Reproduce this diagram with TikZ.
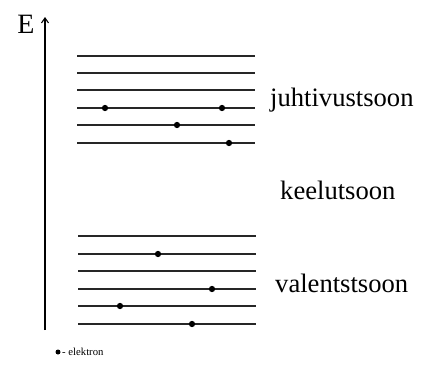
\documentclass[tikz,border=0pt]{standalone}
\usepackage{fontspec}
\setmainfont{Liberation Serif}
\usetikzlibrary{arrows.meta}
\begin{document}
\begin{tikzpicture}[x=1pt,y=-1pt,
  level/.style={line width=1.3pt,black!85},
  electron/.style={circle,fill=black,inner sep=0pt,minimum size=6.3pt},
  lbl/.style={anchor=base west,inner sep=0pt,font=\fontsize{26.6}{30}\selectfont}]
\useasboundingbox (0,0) rectangle (428,365);
% energy axis
\coordinate (axb) at (45,330);
\coordinate (axt) at (45,17);
\draw[line width=1.1pt,-{Straight Barb[length=5pt,width=7pt]}] (axb) -- (axt);
\node[anchor=base,inner sep=0pt,font=\fontsize{28}{30}\selectfont] (E) at (26,33) {E};
% conduction band
\foreach \y/\n in {56/c1,73/c2,90/c3,108/c4,125/c5,143/c6}{
  \coordinate (\n l) at (77,\y); \coordinate (\n r) at (255,\y);
  \draw[level] (\n l) -- (\n r);}
% valence band
\foreach \y/\n in {236/v1,254/v2,271/v3,289/v4,306/v5,324/v6}{
  \coordinate (\n l) at (78,\y); \coordinate (\n r) at (256,\y);
  \draw[level] (\n l) -- (\n r);}
% electrons
\node[electron] (e1) at (105,108) {};
\node[electron] (e2) at (222,108) {};
\node[electron] (e3) at (177,125) {};
\node[electron] (e4) at (229,143) {};
\node[electron] (e5) at (158,254) {};
\node[electron] (e6) at (212,289) {};
\node[electron] (e7) at (120,306) {};
\node[electron] (e8) at (192,324) {};
% labels
\node[lbl] (jt) at (270,106) {juhtivustsoon};
\node[lbl] (kt) at (280,199) {keelutsoon};
\node[lbl] (vt) at (275,292) {valentstsoon};
% legend
\node[electron,minimum size=5pt] (le) at (58,352) {};
\node[anchor=west,inner sep=0pt,font=\fontsize{10.7}{12}\selectfont] (lt) at (62,352) {- elektron};
\end{tikzpicture}
\end{document}
